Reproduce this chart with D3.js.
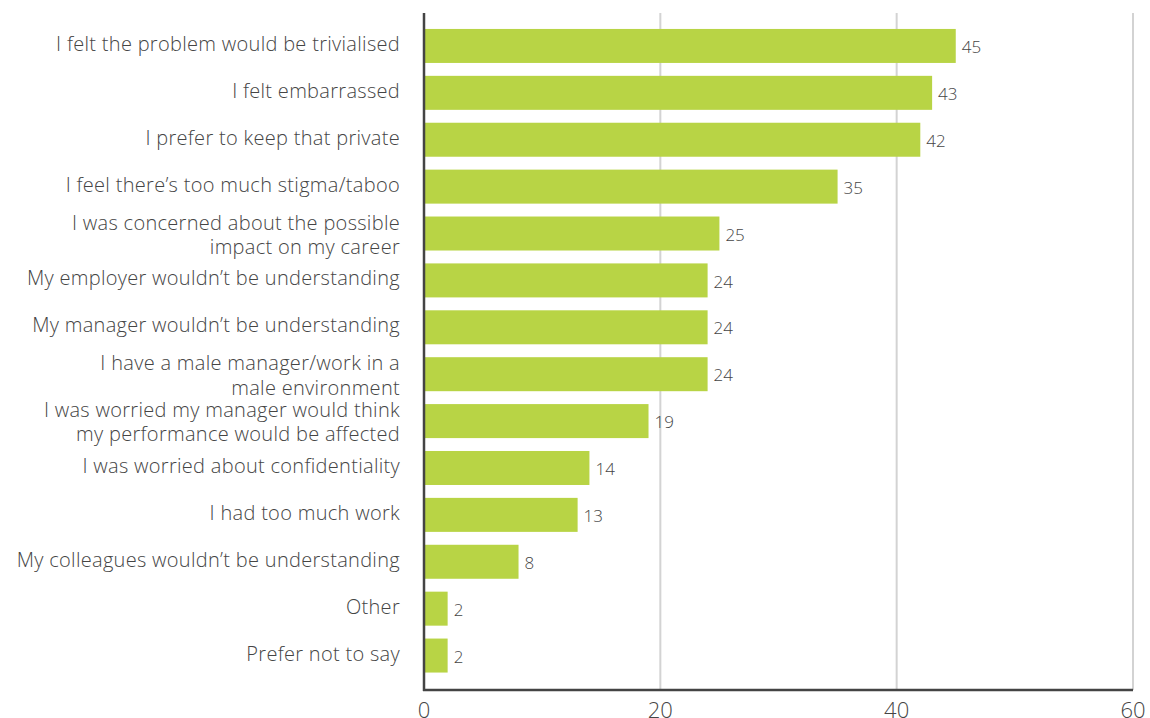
<!DOCTYPE html>
<html>
<head>
<meta charset="utf-8">
<script src="https://cdn.jsdelivr.net/npm/d3@7"></script>
<style>
  html, body { margin: 0; padding: 0; background: #fff; }
  svg { display: block; }
  text { font-family: "Open Sans", sans-serif; font-weight: 300; fill: #454545; }
</style>
</head>
<body>
<svg id="chart" width="1150" height="718"></svg>
<script>
// Reasons given (each label split into its drawn lines)
const categories = [
  ["I felt the problem would be trivialised"],
  ["I felt embarrassed"],
  ["I prefer to keep that private"],
  ["I feel there\u2019s too much stigma/taboo"],
  ["I was concerned about the possible", "impact on my career"],
  ["My employer wouldn\u2019t be understanding"],
  ["My manager wouldn\u2019t be understanding"],
  ["I have a male manager/work in a", "male environment"],
  ["I was worried my manager would think", "my performance would be affected"],
  ["I was worried about confidentiality"],
  ["I had too much work"],
  ["My colleagues wouldn\u2019t be understanding"],
  ["Other"],
  ["Prefer not to say"]
];
const values = [45, 43, 42, 35, 25, 24, 24, 24, 19, 14, 13, 8, 2, 2];
const xTicks = [0, 20, 40, 60];

const svg = d3.select("#chart");
const keys = categories.map(c => c.join(" "));

const x = d3.scaleLinear().domain([0, 60]).range([424, 1133]);
const y = d3.scaleBand().domain(keys).range([22.5, 679]).paddingInner(0.275).paddingOuter(0.1375);

const plotTop = 13, plotBottom = 690;

// vertical gridlines
svg.append("g")
  .selectAll("line")
  .data(xTicks.filter(t => t > 0))
  .join("line")
  .attr("x1", d => x(d)).attr("x2", d => x(d))
  .attr("y1", plotTop).attr("y2", plotBottom)
  .attr("stroke", "#d3d3d3").attr("stroke-width", 2);

// bars
svg.append("g")
  .selectAll("rect")
  .data(values)
  .join("rect")
  .attr("x", x(0))
  .attr("y", (d, i) => y(keys[i]))
  .attr("width", d => x(d) - x(0))
  .attr("height", y.bandwidth())
  .attr("fill", "#b8d445");

// value labels
svg.append("g")
  .selectAll("text")
  .data(values)
  .join("text")
  .attr("x", d => x(d) + 6)
  .attr("y", (d, i) => y(keys[i]) + y.bandwidth() / 2)
  .attr("dy", "0.42em")
  .attr("font-size", 17)
  .text(d => d);

// category labels, right-aligned against the axis
const lab = svg.append("g")
  .selectAll("text")
  .data(categories)
  .join("text")
  .attr("text-anchor", "end")
  .attr("font-size", 20)
  .attr("letter-spacing", 0.3)
  .attr("y", (d, i) => y(keys[i]) + y.bandwidth() / 2);
lab.selectAll("tspan")
  .data(d => d.map((t, j) => ({ t, j, n: d.length })))
  .join("tspan")
  .attr("x", 400)
  .attr("dy", d => d.j === 0 ? (d.n === 1 ? "0.25em" : "-0.2em") : "1.22em")
  .text(d => d.t);

// axis lines
svg.append("line")
  .attr("x1", x(0)).attr("x2", x(0))
  .attr("y1", plotTop).attr("y2", plotBottom + 1)
  .attr("stroke", "#444").attr("stroke-width", 2.5);
svg.append("line")
  .attr("x1", x(0) - 1).attr("x2", x(60))
  .attr("y1", plotBottom).attr("y2", plotBottom)
  .attr("stroke", "#444").attr("stroke-width", 2.5);

// x tick labels
svg.append("g")
  .selectAll("text")
  .data(xTicks)
  .join("text")
  .attr("x", d => x(d))
  .attr("y", 718)
  .attr("text-anchor", "middle")
  .attr("font-size", 22)
  .text(d => d);
</script>
</body>
</html>
